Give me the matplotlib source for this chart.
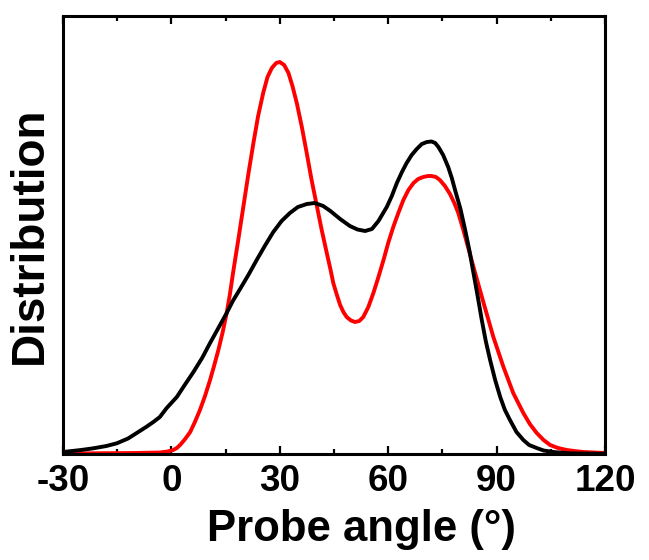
import numpy as np
import matplotlib
matplotlib.use("Agg")
import matplotlib.pyplot as plt
from matplotlib.ticker import MultipleLocator

plt.rcParams['font.family'] = ['Liberation Sans', 'DejaVu Sans']
plt.rcParams['font.weight'] = 'bold'
plt.rcParams['axes.unicode_minus'] = False

# black curve (angle in degrees, distribution in arbitrary units)
black_angle = [-30, -27.5, -25, -21.6, -18, -15.1, -12, -9.6, -7, -5.0, -3.2,
               -1.3, 1.5, 3.5, 6.1, 8.5, 10.7, 13, 15.3, 17, 19.0, 21.3, 23.6,
               26, 28.2, 30.5, 32.8, 35, 37.5, 39.7, 42.0, 44.0, 46.7, 49.4,
               51.5, 53.6, 55.5, 57.3, 59.6, 61, 62.4, 63.8, 65.1, 66.5, 67.9,
               69.3, 70.7, 72.0, 73, 73.9, 75.2, 76.6, 77.6, 78.5, 80, 81.3,
               82.5, 83.6, 84.8, 85.9, 87, 88.2, 89.6, 91.0, 92.3, 93.7, 95.5,
               97.4, 99, 101.1, 103, 105.7, 110, 120]
black_dist = [0.02, 0.03, 0.04, 0.057, 0.08, 0.107, 0.155, 0.21, 0.27, 0.32, 0.37,
              0.46, 0.57, 0.68, 0.82, 0.96, 1.11, 1.26, 1.41, 1.53, 1.65, 1.79, 1.94,
              2.09, 2.22, 2.33, 2.41, 2.47, 2.50, 2.51, 2.48, 2.43, 2.35, 2.28,
              2.245, 2.23, 2.25, 2.33, 2.47, 2.58, 2.71, 2.82, 2.91, 2.99, 3.05,
              3.10, 3.12, 3.125, 3.11, 3.07, 2.99, 2.87, 2.76, 2.64, 2.45, 2.24,
              2.03, 1.81, 1.57, 1.34, 1.13, 0.94, 0.74, 0.57, 0.44, 0.34, 0.22,
              0.14, 0.09, 0.06, 0.035, 0.02, 0.007, 0.002]

# red curve
red_angle = [-30, -10, -3.2, -1, 0.5, 1.5, 2.4, 3.8, 5.2, 6.5, 7.9, 9.3, 10.7,
             11.8, 13, 14.2, 15.3, 16.2, 17.1, 18.5, 19.9, 21.3, 22.7, 24, 25.4,
             26.6, 27.8, 29, 30, 31.2, 32.4, 33.5, 34.7, 36.1, 37.5, 38.8, 40.2,
             41.6, 43, 44, 44.8, 45.8, 46.7, 47.6, 48.5, 49.7, 50.8, 52, 53.1,
             54.5, 55.9, 57.3, 58.7, 60, 61.4, 62.8, 64.2, 65.6, 67, 68.3, 69.7,
             71, 72, 73.2, 74.3, 75.7, 77.1, 78.3, 79.4, 80.8, 83.6, 86.4, 89.1,
             91.9, 94.6, 97.4, 99.2, 101.1, 103, 104.8, 107, 109.4, 111.5, 114, 120]
red_dist = [0.005, 0.01, 0.015, 0.025, 0.04, 0.06, 0.09, 0.15, 0.22, 0.32, 0.44, 0.58, 0.74,
            0.88, 1.04, 1.22, 1.41, 1.6, 1.82, 2.14, 2.47, 2.8, 3.11, 3.38, 3.61,
            3.77, 3.86, 3.91, 3.92, 3.89, 3.81, 3.68, 3.51, 3.27, 3.0, 2.74, 2.49,
            2.24, 2.01, 1.85, 1.71, 1.59, 1.49, 1.42, 1.37, 1.335, 1.32, 1.33, 1.37,
            1.47, 1.61, 1.77, 1.94, 2.11, 2.27, 2.41, 2.54, 2.64, 2.71, 2.75, 2.77,
            2.78, 2.78, 2.77, 2.74, 2.68, 2.6, 2.51, 2.41, 2.24, 1.87, 1.51, 1.17,
            0.87, 0.61, 0.41, 0.3, 0.21, 0.14, 0.09, 0.06, 0.04, 0.03, 0.02, 0.01]

fig = plt.figure(figsize=(6.49, 5.6), dpi=100)
ax = fig.add_axes([63/649, 106/560, 542/649, 438/560])

ax.plot(black_angle, black_dist, color='black', lw=2.8, zorder=3)
ax.plot(red_angle, red_dist, color='#ff0000', lw=2.8, zorder=2)

ax.set_xlim(-30, 120)
ax.set_ylim(0, 4.38)
ax.xaxis.set_major_locator(MultipleLocator(30))
ax.xaxis.set_minor_locator(MultipleLocator(15))
ax.set_yticks([])
ax.tick_params(axis='x', which='both', direction='in', top=True, bottom=True,
               width=1.6, labelsize=26.5, pad=7)
ax.tick_params(axis='x', which='major', length=6)
ax.tick_params(axis='x', which='minor', length=3.5)
for lab in ax.get_xticklabels():
    lab.set_fontweight('bold')
for sp in ax.spines.values():
    sp.set_linewidth(2.2)

ax.set_xlabel('Probe angle (°)', fontsize=31.5, fontweight='bold', labelpad=2)
ax.xaxis.set_label_coords(0.55, -0.125)
ax.set_ylabel('Distribution', fontsize=33, fontweight='bold', labelpad=8)

fig.savefig('out.png', dpi=100)
